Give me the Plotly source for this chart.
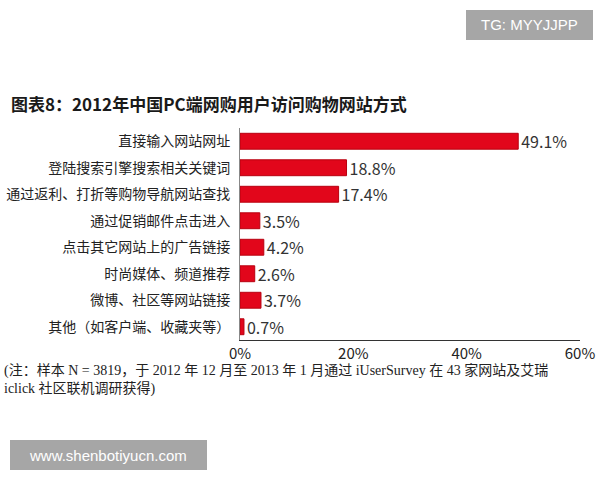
import plotly.graph_objects as go

categories = ["直接输入网站网址", "登陆搜索引擎搜索相关关键词", "通过返利、打折等购物导航网站查找",
              "通过促销邮件点击进入", "点击其它网站上的广告链接", "时尚媒体、频道推荐",
              "微博、社区等网站链接", "其他（如客户端、收藏夹等）"]
values = [49.1, 18.8, 17.4, 3.5, 4.2, 2.6, 3.7, 0.7]
tick_vals = [0, 20, 40, 60]
tick_text = ["0%", "20%", "40%", "60%"]

W, H = 600, 480
L, R, T, B = 240, 20, 128, 140
PW, PH = W - L - R, H - T - B

fig = go.Figure(go.Bar(
    x=values, y=categories, orientation="h",
    marker=dict(color="#e2061b", line=dict(color="#b8000f", width=1)),
    width=0.6,
    text=[f"{v}%" for v in values], textposition="outside", constraintext="none",
    textfont=dict(size=16, color="#333333", family="Noto Sans CJK SC"),
    cliponaxis=False,
))

fig.update_layout(
    width=W, height=H, margin=dict(l=L, r=R, t=T, b=B),
    paper_bgcolor="white", plot_bgcolor="white", showlegend=False,
    font=dict(family="Noto Sans CJK SC", color="#222222"),
    xaxis=dict(range=[0, 60], tickvals=tick_vals, ticktext=tick_text, automargin=False,
               showgrid=False, zeroline=False, showline=True, linecolor="#333333", linewidth=1,
               ticks="", ticklabelstandoff=0,
               tickfont=dict(size=15, color="#222222", family="Noto Sans CJK SC")),
    yaxis=dict(categoryorder="array", categoryarray=categories, autorange="reversed",
               automargin=False,
               showgrid=False, zeroline=False, showline=True, linecolor="#888888", linewidth=1,
               ticks="", ticklabelstandoff=6,
               tickfont=dict(size=14, color="#222222", family="Noto Sans CJK SC")),
)

def px(x):
    return (x - L) / PW

def py(y):
    return (H - B - y) / PH

fig.add_annotation(x=px(9), y=py(103), xref="paper", yref="paper", xanchor="left", yanchor="middle",
                   text="<b>图表8：2012年中国PC端网购用户访问购物网站方式</b>", showarrow=False,
                   font=dict(size=17, color="#1a1a1a", family="Noto Sans CJK SC"))
fig.add_annotation(x=px(2), y=py(360), xref="paper", yref="paper", xanchor="left", yanchor="top",
                   align="left", showarrow=False,
                   text="(注：样本 N = 3819，于 2012 年 12 月至 2013 年 1 月通过 iUserSurvey 在 43 家网站及艾瑞<br>iclick 社区联机调研获得)",
                   font=dict(size=14, color="#222222", family="Liberation Serif, Noto Sans CJK SC"))

# watermark boxes
fig.add_shape(type="rect", xref="paper", yref="paper", x0=px(466), x1=px(593), y0=py(10), y1=py(40),
              fillcolor="#a6a6a6", line=dict(width=0), layer="above")
fig.add_annotation(x=px(529), y=py(25), xref="paper", yref="paper", xanchor="center", yanchor="middle",
                   showarrow=False,
                   text="TG: MYYJJPP", font=dict(size=15, color="white", family="Liberation Sans"))
fig.add_shape(type="rect", xref="paper", yref="paper", x0=px(10), x1=px(207), y0=py(440), y1=py(470),
              fillcolor="#a6a6a6", line=dict(width=0), layer="above")
fig.add_annotation(x=px(108), y=py(455), xref="paper", yref="paper", xanchor="center", yanchor="middle",
                   showarrow=False,
                   text="www.shenbotiyucn.com", font=dict(size=15, color="white", family="Liberation Sans"))

fig.write_html("out.html", config={"displayModeBar": False},
               post_script="document.body.style.margin='0';")
